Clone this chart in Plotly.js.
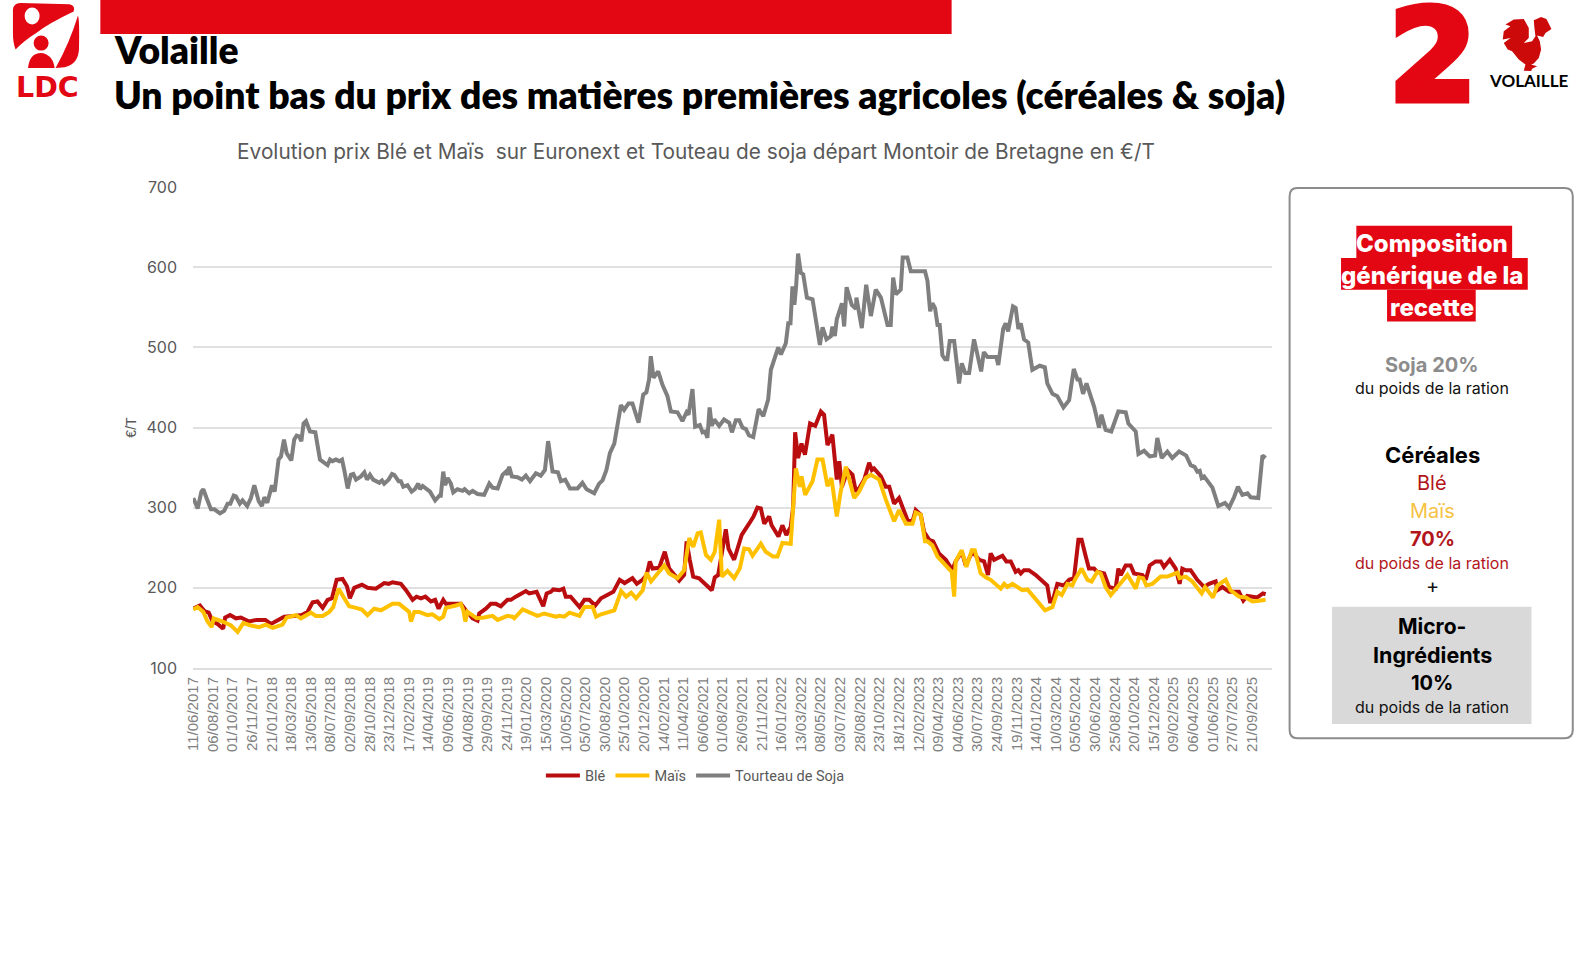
<!DOCTYPE html>
<html><head><meta charset="utf-8">
<script src="https://cdn.plot.ly/plotly-3.0.1.min.js"></script>
<style>html,body{margin:0;padding:0;background:#fff}#c{width:1582px;height:960px}
text.annotation-text[data-unformatted="2"]{stroke:#e30613;stroke-width:7px;stroke-linejoin:miter}</style>
</head><body><div id="c"></div>
<script>
// weeks elapsed since the first date of the series, and the value in €/T read at that week
const firstDate = '2017-06-11';
const xTickWeeks = [0,8,16,24,32,40,48,56,64,72,80,88,96,104,112,120,128,136,144,152,160,168,176,184,192,200,208,216,224,232,240,248,256,264,272,280,288,296,304,312,320,328,336,344,352,360,368,376,384,392,400,408,416,424,432];
const sojaWeeks = [0,1.8,3.3,4.1,5.4,7.2,8.6,10.9,12.6,14,15.1,16.5,17.4,19,20.1,22,23.5,24.9,26.7,28,29,30.2,32.1,33.2,34.8,35.8,37,38.1,40,41.2,42.2,43.2,44.1,45,46,47.6,49.8,51.7,54.8,55.8,56.8,58.2,59.6,60.7,61.6,63,64.3,65.3,66.4,68.4,69.8,70.9,72.1,73.4,75.9,77,77.9,79.7,81.1,82,83.8,84.7,85.7,87.4,89.1,90.4,91.8,92.5,93.6,94.9,96.6,98.7,100.4,101,102,102.8,103.8,105.1,106.1,107.8,109.9,110.7,112.6,114,116,118.7,120.8,122.1,124.2,126.2,127.6,128.2,128.9,130,132.3,134.1,135.7,137.4,139.8,141.8,143.5,144.8,146.6,148.8,150,151.8,153.7,156.8,158.8,160.5,163.6,165.6,167,168.6,170,171.8,172.7,174.5,175.8,177.6,179.2,181.7,183.6,184.9,186,186.7,187.8,189.7,191.5,193.5,194.9,197.6,199.6,201.3,202.1,203.7,204.8,206.7,207.8,208.9,209.8,210.7,211.6,212.6,214.6,216.6,218.7,219.8,221.4,222.8,224.1,225.5,226.8,228.5,230.7,232.6,234.6,235.7,238.7,239.8,241.8,242.8,243.7,244.5,245.3,246,246.8,247.9,248.9,250.4,252.7,255.7,256.8,258.4,260.2,260.8,261.8,262.6,264.7,265.6,266.6,268.7,270.4,270.6,272.8,274.6,276.5,278.5,280.6,283.3,284.6,285.6,286.7,288.7,289.5,291.4,292.8,297.6,298.6,299.6,300.7,301.6,302.7,303.7,304.6,305.7,306.8,307.7,308.7,310.5,312.5,313.6,315,316.6,318.6,321.5,322.6,324.1,326.1,327.7,328.5,330.5,331.5,332.5,334.5,335.6,336.7,337.7,339,340.7,342.4,345.4,347.5,348.5,350.6,352.6,355.1,357.4,359.3,360.8,361.7,363.1,364.5,366.2,367.6,369.6,370.6,372.3,374.6,377.5,380.5,381.6,384.6,385.7,388,390.3,392.5,393.4,395.2,397.5,399.5,402.3,405.2,407,408.6,409.7,410.7,411.5,412.5,415.9,418.3,421,422.7,424.7,426.3,428.1,430.2,431.5,434.6,436.3,437.6];
const sojaValues = [312,299,320,323,312,298,298,293,296,305,305,315,314,305,309,302,312,328,308,302,313,306,328,320,360,364,385,368,359,385,390,389,383,405,408,395,394,360,353,360,358,360,358,360,347,324,341,342,335,339,344,335,341,335,331,334,330,335,342,341,333,333,326,328,320,323,330,323,327,324,320,309,315,315,345,328,337,330,319,323,321,323,318,321,317,316,330,325,324,341,345,341,351,339,338,335,340,333,343,340,347,383,345,344,333,335,324,324,331,323,318,330,334,347,368,380,397,428,422,430,430,406,441,444,460,489,462,470,453,439,420,419,408,419,416,448,401,403,394,395,387,425,402,410,402,410,406,394,409,409,400,398,390,388,423,414,435,472,500,491,505,530,530,576,553,576,617,593,591,562,560,503,525,510,514,526,514,535,555,526,575,553,548,562,524,578,539,572,562,528,528,587,566,572,612,612,595,595,595,583,545,555,549,528,528,490,485,485,508,508,455,480,468,468,510,470,494,488,488,488,478,523,530,520,551,549,523,530,510,506,472,477,475,455,442,439,425,434,473,460,460,442,455,437,426,400,416,397,395,420,419,405,395,367,371,364,365,387,362,370,362,370,365,353,351,345,346,337,339,325,302,306,300,313,326,316,318,313,312,365,362];
const bleWeeks = [0,2.7,4.5,6.3,7.9,9.9,12.2,13,15,17.4,19.4,22.8,25.8,29.4,31.7,34.4,37.1,41.2,44.3,46.6,48.7,50.7,52.8,54.8,56.6,58.5,60.9,62.7,63.9,65.7,68.8,71.1,74.5,77.9,79.7,81.3,84.7,86.8,89.5,91.1,92.9,94.7,97,98.7,100.1,102,103.1,106.5,109.2,111.2,114,116,116.7,119.4,121.4,123.5,125.5,128.2,129.6,131.6,133,135.7,137.1,140.1,142.8,144.2,145.9,146.9,149.4,151,152,154,157.6,159.6,161.6,164,166.4,169.8,171.4,174,176,179.2,181,183.3,185,186.3,187.4,190.1,192.4,194.2,196.9,198.3,200.3,201.3,202.6,204,206.4,209.2,211.6,212.8,214.2,217.3,218.4,220.7,223.8,226.8,228.6,230.2,231.6,233,235,236,238.8,240.4,242,243.8,244.8,245.6,246.8,248.2,249.6,251.7,253.8,256.1,257.4,258.8,260.8,262.6,263.6,264.7,267,269,270.4,271.7,273.8,275.8,276.9,277.8,280.6,282.6,284,286,288,291.4,293.5,294.8,296.9,298.2,299.6,300.3,301.9,304.3,307.1,309.4,310.2,311.1,313.6,315.2,317.9,320.7,322.7,324.3,325.4,326.8,330.2,331.8,333.6,335.6,336.7,337.7,339,341,343.8,346.5,348.5,349.6,350.6,352.6,355.3,357.4,359.4,361.2,362.5,364.2,365.5,367.6,368.9,371.7,373.7,376.4,377.5,378.5,380.5,382.5,383.9,387.3,388.7,390.3,392.7,394.8,396.1,398.5,400.9,402.5,403.6,405,407,409.7,412.5,414.5,417.2,417.9,420,422.7,426.7,428.5,430.1,432.2,434.2,436.5,437.6];
const bleValues = [174,178,171,169,158,155,149,163,166,162,163,158,160,160,155,159,164,165,166,170,182,183,175,185,187,210,211,202,187,200,204,200,199,206,205,207,205,197,185,189,187,189,183,185,174,185,180,180,180,172,162,159,168,174,180,180,177,185,185,189,191,196,193,195,177,193,195,198,197,199,189,189,176,185,185,178,187,193,195,210,206,212,205,210,216,233,224,225,245,224,214,209,216,258,235,214,212,203,197,213,216,273,249,235,266,280,289,300,299,280,289,278,264,278,266,276,301,394,362,380,366,405,402,420,416,378,391,335,358,326,347,341,320,324,335,356,347,349,339,326,326,305,312,285,283,297,291,270,264,260,258,243,235,224,226,233,245,228,245,235,233,216,243,235,240,233,233,220,222,218,222,222,216,208,203,183,183,205,203,210,212,260,260,239,224,224,220,218,201,199,224,216,228,228,218,216,210,228,233,233,226,235,224,205,224,222,222,210,201,205,208,197,201,195,195,184,190,189,188,193,192];
const maisWeeks = [0,1.8,4.1,5.8,7.5,8.3,12,15.4,18.1,20.4,23.5,26.9,29.6,32.4,36.4,38.1,41.9,43.9,48,50,52.8,55.5,57.1,59.3,61.6,63.6,66.4,68.8,71.1,73.8,76.6,81.3,84,88.1,88.8,90.2,92.2,95.6,97.6,100.4,102,103.1,107.2,109.2,110.2,111,111.9,115.7,118.7,122.1,124.2,128.2,130.3,131,134.4,137.1,140.5,143.2,148,149.4,151.4,153.5,157.6,159.6,163,164.4,166.4,169.8,171.8,174.6,176.6,178.7,180.7,183.4,185,186.8,188.8,192.2,194.2,197.6,200.3,202.4,204,205.8,207.1,209.2,211.2,212.8,214.6,215.7,218,220.7,223,224.8,226.8,228.2,231.6,233.6,236.6,238.4,240.4,243.8,244.8,245.9,247.5,248.2,249.7,252.7,254.7,256.8,258.8,260.4,262.6,264.2,266.3,269.7,271.7,274.4,276.5,279.9,282.6,286,288,290.8,293.5,294.8,296.9,298.6,299.6,301.6,303.7,307.1,309.5,310.5,311.1,313.6,315.5,317.7,318.9,321.3,323.4,325.4,329.5,330.9,332.2,334.3,338.3,340.4,344.5,347.6,350.6,352.6,354.4,356.7,358.7,360.1,362.5,364.9,366.6,368.9,370.3,372.3,374.4,377.8,381.2,384.6,385.9,387.6,388.9,391.4,394.8,397.5,401.6,402.5,405,407.7,411.5,412.9,416.1,417.9,421.3,423.3,426.7,429.5,432.2,434.9,437.6];
const maisValues = [173,176,170,158,151,162,158,153,145,156,153,151,154,150,154,163,166,162,169,165,165,170,176,199,187,177,175,173,166,174,172,180,180,170,158,170,170,166,167,161,164,175,178,180,172,158,170,162,163,165,160,165,164,162,173,170,165,168,164,165,164,169,165,176,176,164,167,170,172,196,189,194,187,197,219,208,216,228,218,212,222,262,251,268,269,241,235,245,285,214,221,212,224,249,248,240,255,245,239,239,256,255,301,349,326,339,316,333,360,360,327,337,289,320,351,312,320,337,341,335,310,283,297,280,280,294,291,258,258,253,239,228,220,189,233,247,226,247,247,218,213,210,199,205,201,205,197,198,183,172,176,195,191,205,203,212,224,210,208,220,218,201,191,203,216,199,213,212,203,205,214,214,219,212,214,208,193,201,188,203,210,197,189,188,183,184,185];
const serieNames = ['Blé','Maïs','Tourteau de Soja'];
const serieColors = ['#b90d10','#ffc000','#7f7f7f'];
const yTicks = [100,200,300,400,500,600,700];
const chartTitle = 'Evolution prix Blé et Maïs \u00a0sur Euronext et Touteau de soja départ Montoir de Bretagne en €/T';
const headline1 = 'Volaille';
const headline2 = 'Un point bas du prix des matières premières agricoles (céréales & soja)';

const L=193.3,R=1271.7,T=187.3,B=668,RED='#e30613';
const MS_WEEK=7*864e5, t0=Date.parse(firstDate+'T00:00:00Z');
const toDate=w=>new Date(t0+w*MS_WEEK).toISOString().slice(0,19).replace('T',' ');
const px=x=>(x-L)/(R-L), py=y=>(B-y)/(B-T);
const path=(s,k=1,ox=0,oy=0)=>s.replace(/(-?[\d.]+)[ ,]+(-?[\d.]+)/g,(m,a,b)=>px(ox+a*k).toFixed(5)+','+py(oy+b*k).toFixed(5));
const sh=(d,fill,line)=>({type:'path',xref:'paper',yref:'paper',path:d,fillcolor:fill,line:line||{width:0},layer:'below'});
const rect=(x0,y0,x1,y1,fill)=>({type:'rect',xref:'paper',yref:'paper',x0:px(x0),x1:px(x1),y0:py(y1),y1:py(y0),fillcolor:fill,line:{width:0},layer:'below'});
const ell=(x0,y0,x1,y1,fill)=>({type:'circle',xref:'paper',yref:'paper',x0:px(x0),x1:px(x1),y0:py(y1),y1:py(y0),fillcolor:fill,line:{width:0},layer:'below'});
const txt=(text,x,y,size,color,opt={})=>({xref:'paper',yref:'paper',x:px(x),y:py(y),text,showarrow:false,xanchor:opt.anchor||'center',yanchor:'middle',
  font:{family:opt.family||'Inter, sans-serif',size,color,weight:opt.weight||400}});

const shapes=[
  rect(100.7,0,951.5,34.3,RED),
  // LDC logo
  sh(path('M40,30 Q42,10 62,10 L210,14 Q228,18 222,36 Q150,70 110,100 Q70,125 48,150 Q40,130 40,100 Z',1/3),RED),
  ell(25,8,40,25,'#ffffff'),
  sh(path('M235,48 Q240,60 238,150 Q235,195 195,203 L168,205 Q210,130 235,48 Z',1/3),RED),
  ell(34,36,49,51,RED),
  sh(path('M85,205 Q90,160 125,160 Q160,165 165,205 Z',1/3),RED),
  // rooster
  sh(path('M790,62 L812,52 L828,58 L843,88 L825,100 L818,112 L800,108 L808,125 L812,150 L805,175 L790,192 L782,195 L800,200 L785,207 L782,214 L760,213 L765,195 L745,180 L725,155 L712,150 L700,130 L720,115 L697,120 L700,95 L720,80 L705,75 L730,60 L760,58 L775,85 L775,115 L760,130 L785,125 L795,110 L792,85 Z',1/3,1270,0),'#cc0a0a'),
  // side panel
  sh(path('M1297,188.3 L1564,188.3 Q1572.3,188.3 1572.3,196.6 L1572.3,730 Q1572.3,738.3 1564,738.3 L1297,738.3 Q1289.3,738.3 1289.3,730 L1289.3,196.6 Q1289.3,188.3 1297,188.3 Z'),'#ffffff',{color:'#8c8c8c',width:2}),
  rect(1356,226,1511.7,258.3,RED),
  rect(1340.7,258.3,1527.3,290,RED),
  rect(1386.7,290,1475.3,321.7,RED),
  rect(1331.7,606.7,1531,724,'#d9d9d9')
];
const C=1432;
const annotations=[
  txt(headline1,112,50,37.3,'#000000',{family:'Lato, sans-serif',weight:800,anchor:'left'}),
  txt(headline2,112,95,37.3,'#000000',{family:'Lato, sans-serif',weight:800,anchor:'left'}),
  txt('LDC',47.5,88,28.5,RED,{family:'DejaVu Sans, sans-serif',weight:700}),
  txt('2',1432.5,57,126,RED,{family:'DejaVu Sans, sans-serif',weight:700}),
  txt('VOLAILLE',1528,81,17,'#000000',{family:'Lato, sans-serif',weight:700}),
  txt('Composition',C,244,24,'#ffffff',{weight:800}),
  txt('générique de la',C,276,24,'#ffffff',{weight:800}),
  txt('recette',C,308,24,'#ffffff',{weight:800}),
  txt('Soja 20%',C,365,20,'#8c8c8c',{weight:700}),
  txt('du poids de la ration',C,388,16,'#111111'),
  txt('Céréales',C,455,22,'#000000',{weight:700}),
  txt('Blé',C,483,20,'#b2161b'),
  txt('Maïs',C,511,20,'#f5c242'),
  txt('70%',C,539,20,'#b2161b',{weight:700}),
  txt('du poids de la ration',C,563,16,'#b2161b'),
  txt('+',C,586,20,'#111111'),
  txt('Micro-',C,627,21,'#000000',{weight:700}),
  txt('Ingrédients',C,655,21.5,'#000000',{weight:700}),
  txt('10%',C,683,20,'#000000',{weight:700}),
  txt('du poids de la ration',C,707,16,'#111111')
];
const serie=(i,w,v)=>({type:'scatter',mode:'lines',name:serieNames[i],x:w.map(toDate),y:v,line:{color:serieColors[i],width:4},hoverinfo:'skip'});
const traces=[serie(0,bleWeeks,bleValues),serie(1,maisWeeks,maisValues),serie(2,sojaWeeks,sojaValues)];
const layout={
  width:1582,height:960,autosize:false,paper_bgcolor:'#fff',plot_bgcolor:'rgba(0,0,0,0)',
  margin:{l:L,r:1582-R,t:T,b:960-B,pad:0},
  title:{text:chartTitle,x:696/1582,y:1-152/960,xanchor:'center',yanchor:'middle',font:{family:'Inter, sans-serif',size:20.8,color:'#595959'}},
  xaxis:{type:'date',range:[toDate(-0.12),toDate(440.2)],tickmode:'array',tickvals:xTickWeeks.map(toDate),tickformat:'%d/%m/%Y',tickangle:-90,
    showgrid:false,zeroline:false,showline:true,linecolor:'#dedede',linewidth:2,ticks:'',ticklabelstandoff:1,
    tickfont:{family:'Liberation Sans, Arial, sans-serif',size:15,color:'#7f7f7f'}},
  yaxis:{range:[100,700],tickvals:yTicks,showgrid:true,gridcolor:'#e0e0e0',gridwidth:2,zeroline:false,showline:false,ticks:'',ticklabelstandoff:15,
    tickfont:{family:'Inter, sans-serif',size:16,color:'#595959'},
    title:{text:'€/T',standoff:6,font:{family:'Liberation Sans, Arial, sans-serif',size:14,color:'#595959'}}},
  legend:{orientation:'h',x:px(541),xanchor:'left',y:py(775.5),yanchor:'middle',itemwidth:34,tracegroupgap:0,
    font:{family:'Roboto, sans-serif',size:14.5,color:'#595959'},bgcolor:'rgba(0,0,0,0)'},
  shapes,annotations
};
Plotly.newPlot('c',traces,layout,{displayModeBar:false,staticPlot:true});
</script></body></html>
